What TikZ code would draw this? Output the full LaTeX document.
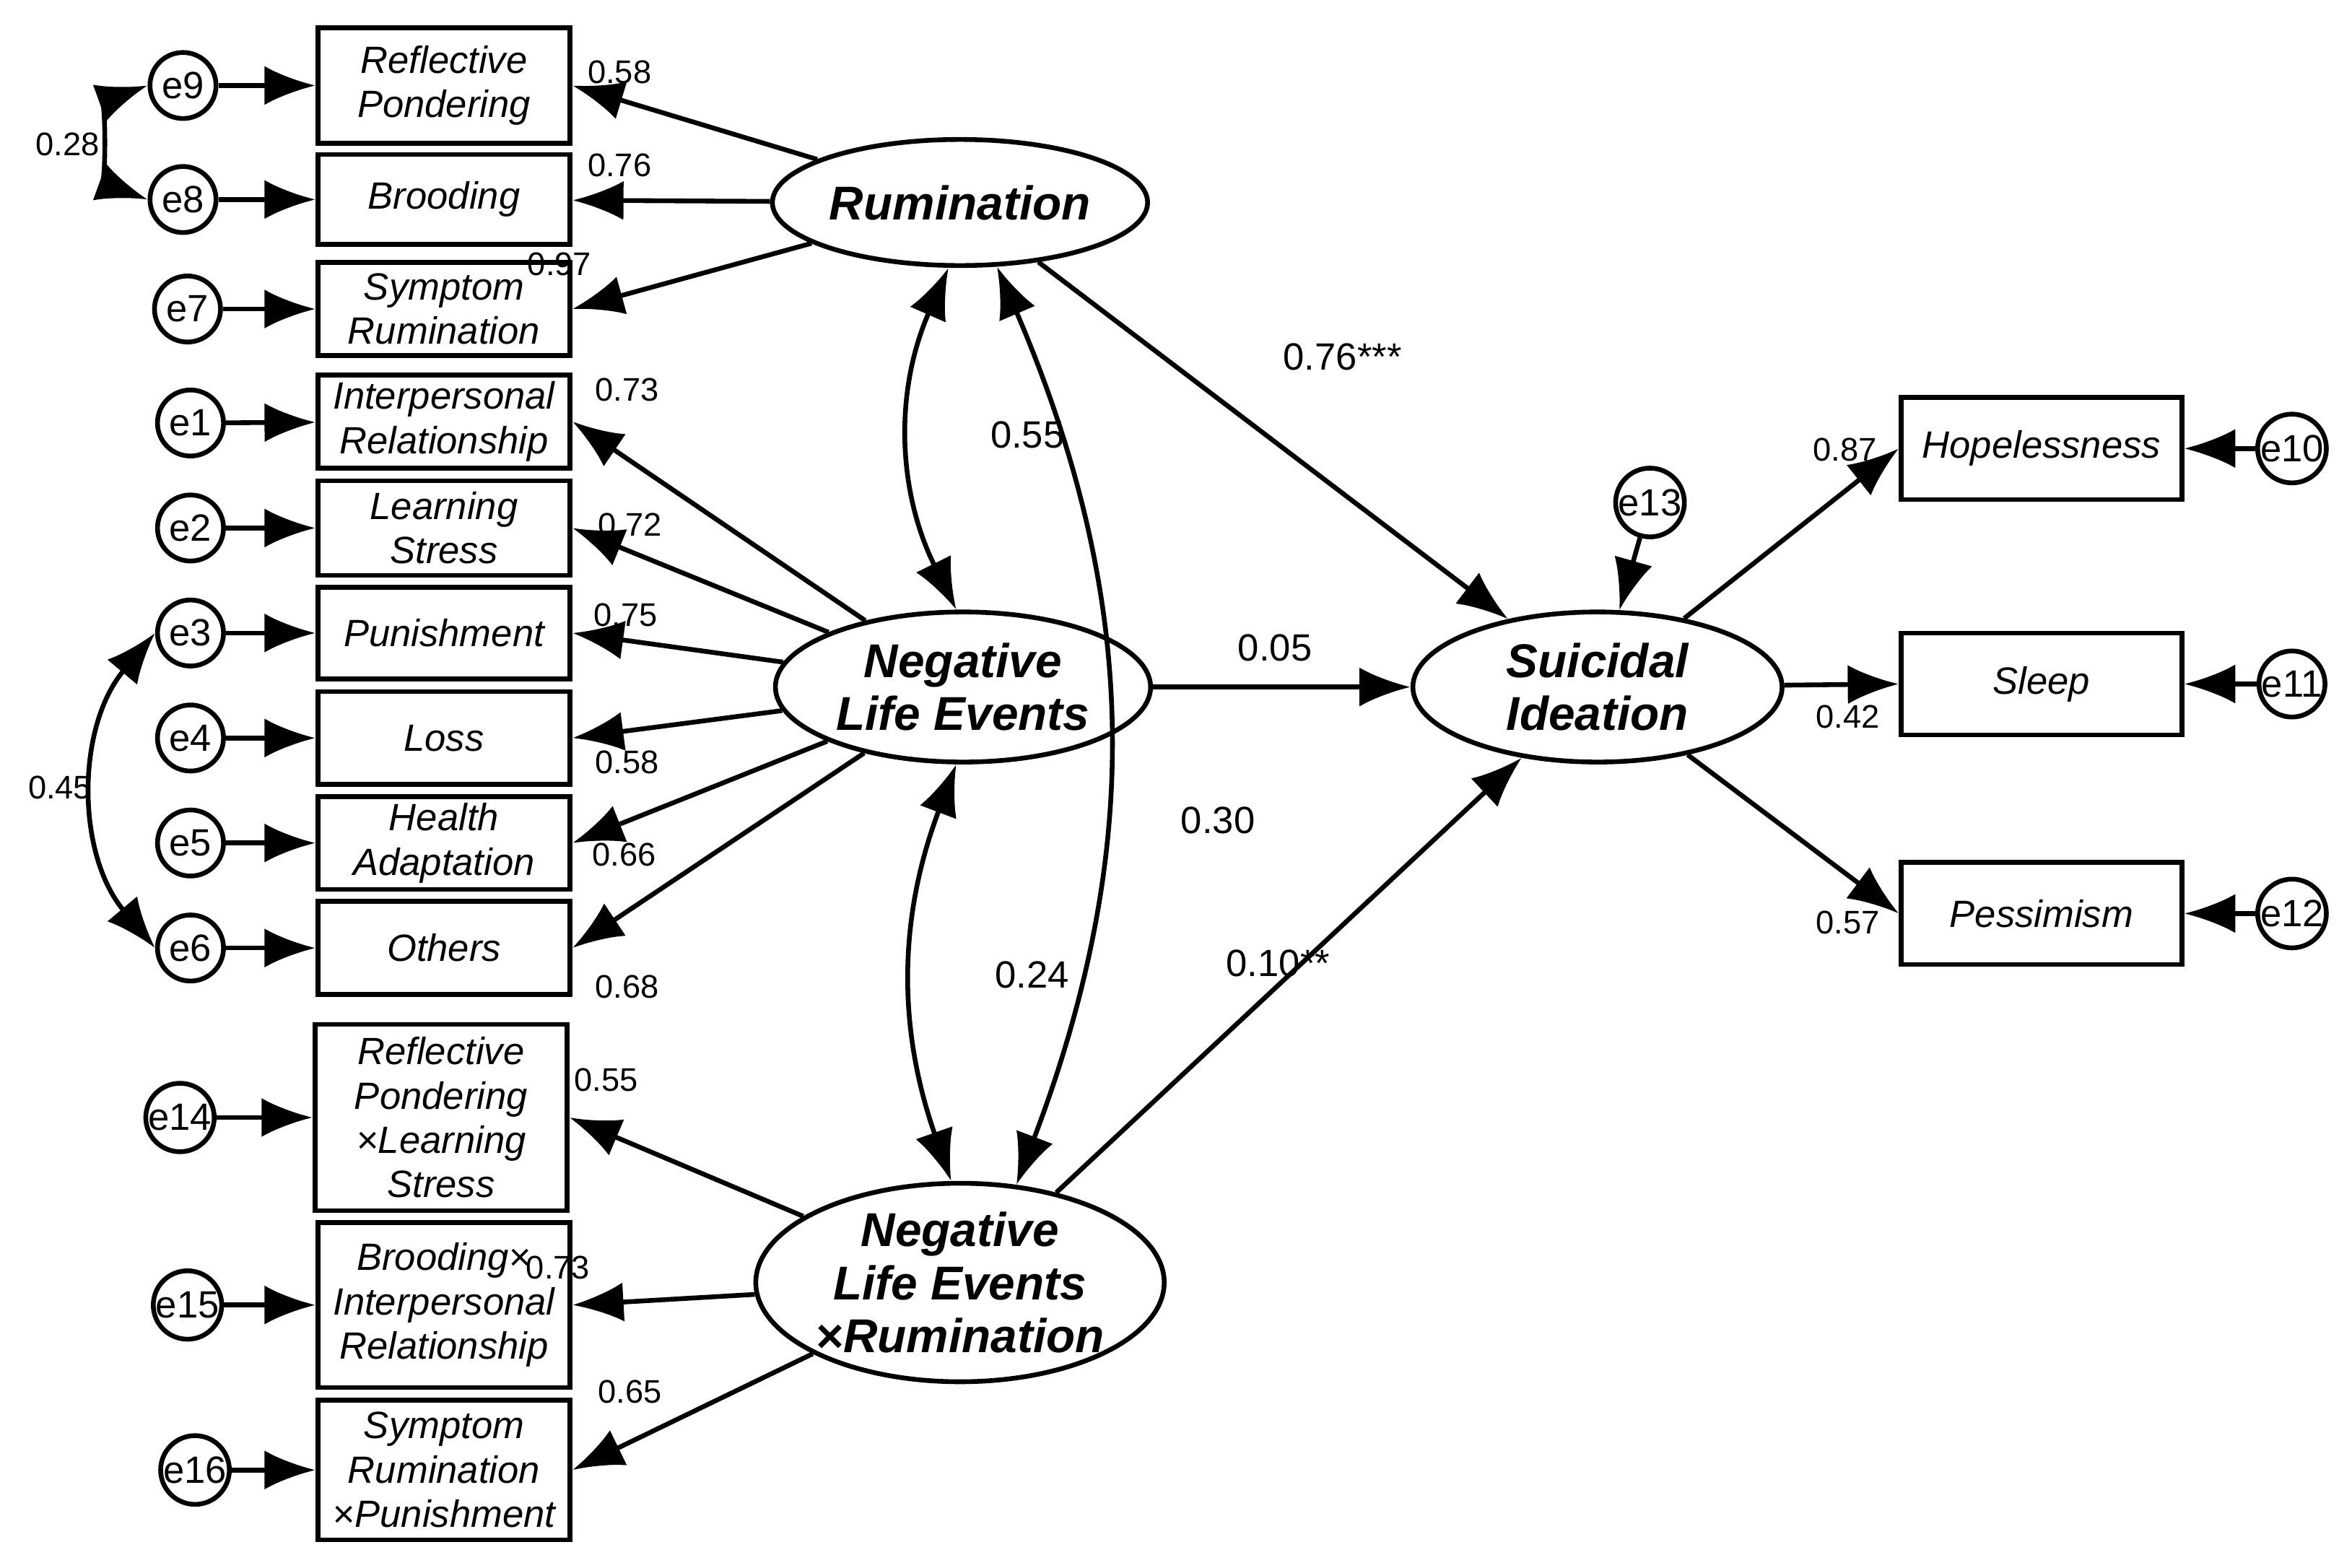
\documentclass[tikz,border=0pt]{standalone}
\usepackage{fontspec}
\setmainfont{Liberation Sans}
\usetikzlibrary{arrows.meta, shapes.geometric}

\begin{document}
\begin{tikzpicture}[x=0.01cm,y=-0.01cm,line width=0.9pt,
    >={Latex[length=3.4mm,width=2.6mm]},
    obs node/.style={rectangle,draw,minimum width=1.68cm,align=center,font=\fontsize{7.2}{8.4}\selectfont\itshape,inner sep=1pt},
    lat node/.style={ellipse,draw,align=center,font=\fontsize{9}{10}\selectfont\bfseries\itshape,inner sep=0pt},
    err node/.style={circle,draw,minimum size=0.44cm,inner sep=0pt,font=\fontsize{7.2}{8}\selectfont},
    est/.style={font=\fontsize{6.2}{7}\selectfont},
    path est/.style={font=\fontsize{7.2}{8}\selectfont}]

\useasboundingbox (0,0) rectangle (1568,1045);

% indicators, left column
\node[obs node,minimum height=0.77cm] (rp)  at (296,57)  {Reflective\\Pondering};
\node[obs node,minimum height=0.60cm] (br)  at (296,133) {Brooding};
\node[obs node,minimum height=0.62cm] (sr)  at (296,206) {Symptom\\Rumination};
\node[obs node,minimum height=0.62cm] (ir)  at (296,281) {Interpersonal\\Relationship};
\node[obs node,minimum height=0.63cm] (ls)  at (296,352) {Learning\\Stress};
\node[obs node,minimum height=0.61cm] (pu)  at (296,422) {Punishment};
\node[obs node,minimum height=0.62cm] (lo)  at (296,492) {Loss};
\node[obs node,minimum height=0.62cm] (ha)  at (296,562) {Health\\Adaptation};
\node[obs node,minimum height=0.62cm] (ot)  at (296,632) {Others};
\node[obs node,minimum height=1.24cm] (rpls) at (294,745) {Reflective\\Pondering\\×Learning\\Stress};
\node[obs node,minimum height=1.10cm] (brir) at (296,870) {Brooding×\\Interpersonal\\Relationship};
\node[obs node,minimum height=0.93cm] (srpu) at (296,980) {Symptom\\Rumination\\×Punishment};

% errors, left column
\node[err node] (e9)  at (122,57)  {e9};
\node[err node] (e8)  at (122,133) {e8};
\node[err node] (e7)  at (125,206) {e7};
\node[err node] (e1)  at (127,282) {e1};
\node[err node] (e2)  at (127,352) {e2};
\node[err node] (e3)  at (127,422) {e3};
\node[err node] (e4)  at (127,492) {e4};
\node[err node] (e5)  at (127,562) {e5};
\node[err node] (e6)  at (127,632) {e6};
\node[err node] (e14) at (120,745) {e14};
\node[err node] (e15) at (125,870) {e15};
\node[err node] (e16) at (130,980) {e16};

% latent variables
\node[lat node,minimum width=2.5cm,minimum height=0.84cm] (rum) at (640,135) {Rumination};
\node[lat node,minimum width=2.5cm,minimum height=1.0cm]  (nle) at (642,458) {Negative\\Life Events};
\node[lat node,minimum width=2.44cm,minimum height=1.3cm] (int) at (640,855) {Negative\\Life Events\\×Rumination};
\node[lat node,minimum width=2.46cm,minimum height=1.0cm] (si)  at (1065,458) {Suicidal\\Ideation};

% outcome indicators
\node[obs node,minimum width=1.87cm,minimum height=0.68cm] (hp) at (1361,299) {Hopelessness};
\node[obs node,minimum width=1.87cm,minimum height=0.68cm] (sl) at (1361,456) {Sleep};
\node[obs node,minimum width=1.87cm,minimum height=0.68cm] (pe) at (1361,609) {Pessimism};
\node[err node] (e10) at (1528,299) {e10};
\node[err node] (e11) at (1528,456) {e11};
\node[err node] (e12) at (1528,609) {e12};
\node[err node] (e13) at (1100,335) {e13};

% error paths
\foreach \e/\o in {e9/rp,e8/br,e7/sr,e1/ir,e2/ls,e3/pu,e4/lo,e5/ha,e6/ot,e14/rpls,e15/brir,e16/srpu}
  \draw[->] (\e) -- (\o);
\foreach \e/\o in {e10/hp,e11/sl,e12/pe}
  \draw[->] (\e) -- (\o);
\draw[->] (e13) -- (si);

% loadings
\draw[->] (rum) -- (rp.east);
\draw[->] (rum) -- (br);
\draw[->] (rum) -- (sr.east);
\foreach \o in {ir,ls,pu,lo,ha,ot}
  \draw[->] (nle) -- (\o.east);
\draw[->] (int) -- (rpls.east);
\draw[->] (int) -- (brir.east);
\draw[->] (int) -- (srpu.east);
\draw[->] (si) -- (hp.west);
\draw[->] (si) -- (sl.west);
\draw[->] (si) -- (pe.west);

% structural paths
\draw[->] (rum) -- (si);
\draw[->] (nle) -- (si);
\draw[->] (int) -- (si);

% covariances
\draw[<->] (e9.west) to[bend right=70] (e8.west);
\draw[<->] (e3.west) to[bend right=40] (e6.west);
\draw[<->] (rum.-100) to[bend right=25] (nle.95);
\draw[<->] (nle.-95) to[bend right=20] (int.95);
\draw[<->] (rum.-60) to[bend left=22] (int.60);

% estimates
\node[est] at (45,96)   {0.28};
\node[est] at (40,525)  {0.45};
\node[est] at (413,48)  {0.58};
\node[est] at (413,110) {0.76};
\node[est] at (373,176) {0.97};
\node[est] at (418,260) {0.73};
\node[est] at (420,350) {0.72};
\node[est] at (417,410) {0.75};
\node[est] at (418,508) {0.58};
\node[est] at (416,570) {0.66};
\node[est] at (418,658) {0.68};
\node[est] at (404,720) {0.55};
\node[est] at (372,845) {0.73};
\node[est] at (420,928) {0.65};
\node[est] at (1230,300) {0.87};
\node[est] at (1232,478) {0.42};
\node[est] at (1232,615) {0.57};
\node[path est] at (685,290) {0.55};
\node[path est] at (812,547) {0.30};
\node[path est] at (688,650) {0.24};
\node[path est] at (895,238) {0.76***};
\node[path est] at (850,432) {0.05};
\node[path est] at (852,642) {0.10**};
\end{tikzpicture}
\end{document}
